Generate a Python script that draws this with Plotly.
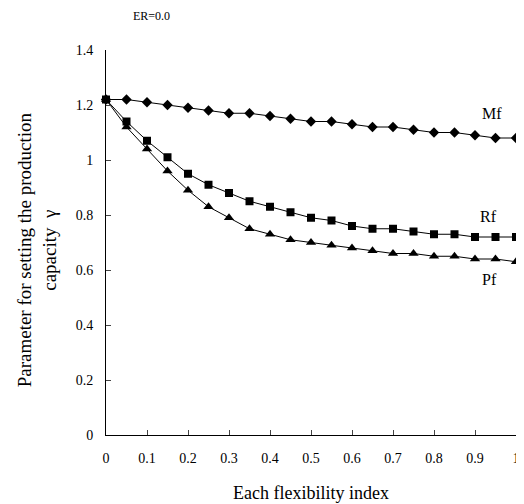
import plotly.graph_objects as go

x = [0, 0.05, 0.1, 0.15, 0.2, 0.25, 0.3, 0.35, 0.4, 0.45, 0.5,
     0.55, 0.6, 0.65, 0.7, 0.75, 0.8, 0.85, 0.9, 0.95, 1.0]
mf = [1.22, 1.22, 1.21, 1.20, 1.19, 1.18, 1.17, 1.17, 1.16, 1.15, 1.14,
      1.14, 1.13, 1.12, 1.12, 1.11, 1.10, 1.10, 1.09, 1.08, 1.08]
rf = [1.22, 1.14, 1.07, 1.01, 0.95, 0.91, 0.88, 0.85, 0.83, 0.81, 0.79,
      0.78, 0.76, 0.75, 0.75, 0.74, 0.73, 0.73, 0.72, 0.72, 0.72]
pf = [1.22, 1.12, 1.04, 0.96, 0.89, 0.83, 0.79, 0.75, 0.73, 0.71, 0.70,
      0.69, 0.68, 0.67, 0.66, 0.66, 0.65, 0.65, 0.64, 0.64, 0.63]

xticks = [0, 0.1, 0.2, 0.3, 0.4, 0.5, 0.6, 0.7, 0.8, 0.9, 1]
yticks = [0, 0.2, 0.4, 0.6, 0.8, 1, 1.2, 1.4]

font = "Liberation Serif"
black = dict(family=font, color="black")

fig = go.Figure()
fig.add_trace(go.Scatter(x=x, y=mf, mode="lines+markers", name="Mf", cliponaxis=False,
                         line=dict(color="black", width=1),
                         marker=dict(symbol="diamond", size=8, color="black")))
fig.add_trace(go.Scatter(x=x, y=rf, mode="lines+markers", name="Rf", cliponaxis=False,
                         line=dict(color="black", width=1),
                         marker=dict(symbol="square", size=8, color="black")))
fig.add_trace(go.Scatter(x=x, y=pf, mode="lines+markers", name="Pf", cliponaxis=False,
                         line=dict(color="black", width=1),
                         marker=dict(symbol="triangle-up", size=9, color="black")))

# series labels
fig.add_annotation(x=0.941, y=1.17, text="Mf", showarrow=False, font=dict(**black, size=16))
fig.add_annotation(x=0.934, y=0.793, text="Rf", showarrow=False, font=dict(**black, size=16))
fig.add_annotation(x=0.936, y=0.567, text="Pf", showarrow=False, font=dict(**black, size=16))

# header and axis titles
fig.add_annotation(x=0.110, y=1.088, xref="paper", yref="paper", text="ER=0.0",
                   showarrow=False, xanchor="center", yanchor="middle",
                   font=dict(**black, size=12))
fig.add_annotation(x=0.5, y=-0.151, xref="paper", yref="paper",
                   text="Each flexibility index", showarrow=False,
                   xanchor="center", yanchor="middle", font=dict(**black, size=18))
fig.add_annotation(x=-0.168, y=0.48, xref="paper", yref="paper",
                   text="Parameter for setting the production<br>capacity  γ",
                   showarrow=False, textangle=-90, xanchor="center", yanchor="middle",
                   font=dict(**black, size=19))

# the page body adds an 8px offset, so margins are shifted to compensate
fig.update_layout(
    width=524, height=504,
    margin=dict(l=98, r=16, t=42, b=77),
    plot_bgcolor="white", paper_bgcolor="white",
    showlegend=False,
    font=dict(**black, size=14),
    xaxis=dict(range=[0, 1], tickvals=xticks, ticks="inside", ticklen=5,
               tickfont=dict(**black, size=14), ticklabelstandoff=10,
               showgrid=False, zeroline=False, showline=True, linecolor="black",
               linewidth=1, automargin=False),
    yaxis=dict(range=[0, 1.4], tickvals=yticks, ticks="inside", ticklen=5,
               tickfont=dict(**black, size=14), ticklabelstandoff=9,
               showgrid=False, zeroline=False, showline=True, linecolor="black",
               linewidth=1, automargin=False),
)

fig.write_html("out.html")
